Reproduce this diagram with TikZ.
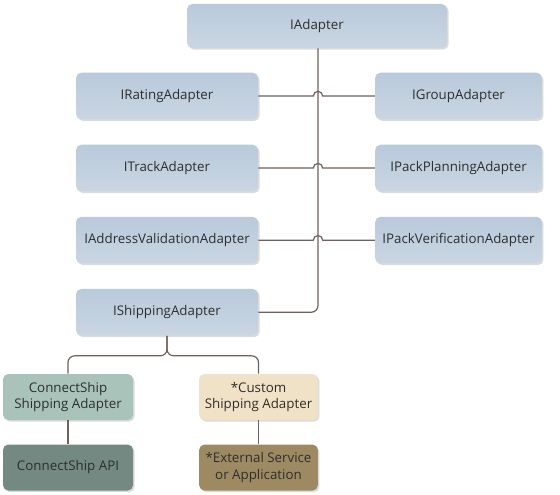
\documentclass[tikz,border=0pt]{standalone}
\usepackage{fontspec}
\setmainfont{Open Sans}
\usepackage{xcolor}
\usepackage{tikz}
\usetikzlibrary{shapes.geometric, arrows, positioning}
\usetikzlibrary{calc,shadows}
\definecolor{ifaceTop}{HTML}{B9CADB}
\definecolor{ifaceBot}{HTML}{CAD6E2}
\definecolor{csAdapterCol}{HTML}{A9C3BB}
\definecolor{customCol}{HTML}{F0E2C6}
\definecolor{csApiCol}{HTML}{738981}
\definecolor{extCol}{HTML}{9E8A62}
\definecolor{linkCol}{HTML}{6F615B}
\definecolor{textCol}{HTML}{2E2E2E}
\tikzstyle{link} = [draw=linkCol, line width=0.9pt]
\tikzstyle{box} = [rectangle, rounded corners=4pt, minimum height=35pt, align=center, text=textCol, font=\fontsize{10}{12.5}\selectfont, drop shadow={shadow xshift=1.2pt, shadow yshift=-1.2pt, fill=black!14, opacity=1}]
\tikzset{
	iface/.style = {box, top color=ifaceTop, bottom color=ifaceBot},
	ifaceL/.style = {iface, minimum width=136.5pt},
	ifaceR/.style = {iface, minimum width=125pt},
	shipL/.style = {box, minimum width=97.5pt, minimum height=34.5pt},
	shipR/.style = {box, minimum width=89pt, minimum height=34.5pt}
}
\newcommand\hop[3]{\draw [link] (#1.east) -- ([xshift=-3.5pt]#3) arc[start angle=180, end angle=0, radius=3.5pt] -- (#2.west);}

\begin{document}
\begin{tikzpicture}[x=0.75pt, y=0.75pt, node distance=1.9cm]
\useasboundingbox (0,0) rectangle (560,-495);
%----------------------------------------------------------------------------
% Placement of interface nodes
\node (iAdapter) [iface, minimum width=195pt, minimum height=33pt] at (317,-26) {IAdapter};

\node (iRating) [ifaceL] at (167,-96) {IRatingAdapter};
\node (iTrack) [ifaceL, below of = iRating] {ITrackAdapter};
\node (iAddress) [ifaceL, below of = iTrack] {IAddressValidationAdapter};
\node (iShipping) [ifaceL, below of = iAddress] {IShippingAdapter};

\node (iGroup) [ifaceR] at (458.5,-96) {IGroupAdapter};
\node (iPackPlan) [ifaceR, below of = iGroup] {IPackPlanningAdapter};
\node (iPackVerify) [ifaceR, below of = iPackPlan] {IPackVerificationAdapter};

% shipping adapters
\node (csAdapter) [shipL, fill=csAdapterCol] at (68,-397) {ConnectShip\\Shipping Adapter};
\node (customAdapter) [shipR, fill=customCol] at (258.5,-397) {*Custom\\Shipping Adapter};

\node (csApi) [shipL, fill=csApiCol, below = 18pt of csAdapter] {ConnectShip API};
\node (extService) [shipR, fill=extCol, below = 18pt of customAdapter] {*External Service\\or Application};

%----------------------------------------------------------------------------
% Lines
\coordinate (trunk) at ([xshift=0.75pt]iAdapter.south);
\draw [link, rounded corners=5pt] (trunk) |- (iShipping.east);

\hop{iRating}{iGroup}{iRating.east -| trunk}
\hop{iTrack}{iPackPlan}{iTrack.east -| trunk}
\hop{iAddress}{iPackVerify}{iAddress.east -| trunk}

\coordinate (fork) at ($(iShipping.south)+(0,-15pt)$);
\draw [link, rounded corners=5pt] (iShipping.south) -- (fork) -| (csAdapter.north);
\draw [link, rounded corners=5pt] (iShipping.south) -- (fork) -| (customAdapter.north);

\draw [link] (csAdapter) -- (csApi);
\draw [link] (customAdapter) -- (extService);

\end{tikzpicture}
\end{document}
